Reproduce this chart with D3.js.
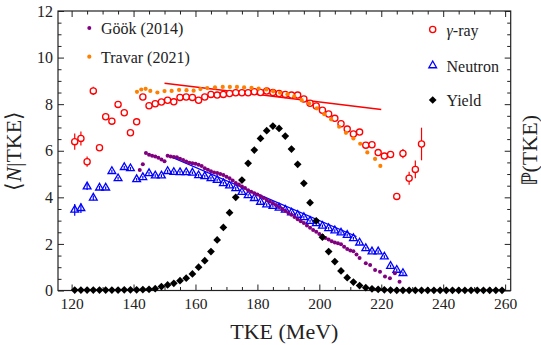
<!DOCTYPE html>
<html>
<head>
<meta charset="utf-8">
<script src="https://d3js.org/d3.v7.min.js"></script>
<style>
  body { margin: 0; background: #fff; }
</style>
</head>
<body>
<div id="chart"></div>
<script>
// gamma-ray multiplicity, 2 MeV bins
const gammaTke = [121,123,125,127,129,131,133,135,137,139,141,143,145,147,149,151,153,155,157,159,161,163,165,167,169,171,173,175,177,179,181,183,185,187,189,191,193,195,197,199,201,203,205,207,209,211,213,215,217,219,221,223,225,227,229,231,233];
const gammaN = [6.39,6.53,5.53,8.57,6.13,7.46,7.27,7.99,7.63,6.77,7.24,8.31,7.93,8.02,8.09,8.17,8.10,8.29,8.31,8.29,8.17,8.31,8.42,8.39,8.42,8.46,8.49,8.49,8.49,8.53,8.50,8.56,8.50,8.46,8.42,8.39,8.39,8.22,8.04,7.92,7.74,7.58,7.39,7.16,6.93,6.72,6.80,6.24,6.26,5.92,5.77,5.84,4.04,5.88,4.82,5.20,6.29];
const gammaErr = [0.35,0.3,0.22,0.18,0.12,0.1,0.1,0.1,0.1,0.1,0.1,0.1,0.1,0.1,0.1,0.1,0.1,0.1,0.1,0.1,0.1,0.1,0.1,0.1,0.1,0.1,0.1,0.1,0.1,0.1,0.1,0.1,0.1,0.1,0.1,0.1,0.1,0.1,0.1,0.1,0.1,0.1,0.1,0.1,0.1,0.1,0.1,0.1,0.1,0.1,0.1,0.1,0.12,0.2,0.28,0.38,0.7];

// neutron multiplicity
const neutronTke = [121,123,125,127,129,131,133,135,137,139,141,143,145,147,149,151,153,155,157,159,161,163,165,167,169,171,173,175,177,179,181,183,185,187,189,191,193,195,197,199,201,203,205,207,209,211,213,215,217,219,221,223,225,227];
const neutronN = [3.46,3.53,4.46,3.98,4.41,4.41,5.12,4.81,5.29,5.24,4.77,4.86,5.03,4.93,4.93,5.12,5.08,5.07,5.07,5.05,4.94,4.90,4.81,4.74,4.60,4.50,4.38,4.22,4.08,3.96,3.80,3.69,3.62,3.55,3.46,3.34,3.24,3.14,2.98,2.88,2.77,2.67,2.57,2.48,2.38,2.24,2.05,1.81,1.67,1.67,1.45,1.05,0.88,0.74];
const neutronErr = [0.25,0.2,0.15,0.1,0.08];

// Göök (2014)
const gookTke = [142,143,144,145,146,147,148,149,150,151,152,153,154,155,156,157,158,159,160,161,162,163,164,165,166,167,168,169,170,171,172,173,174,175,176,177,178,179,180,181,182,183,184,185,186,187,188,189,190,191,192,193,194,195,196,197,198,199,200,201,202,203,204,205,206,207,208,209,210,211,212,213,215,216.4,218,219.6,221.2,222.8,224.4,225.9];
const gookN = [5.17,5.42,5.90,5.83,5.79,5.75,5.70,5.62,5.55,5.78,5.75,5.73,5.72,5.66,5.60,5.54,5.48,5.46,5.44,5.40,5.35,5.25,5.18,5.12,5.07,5.04,5.00,4.96,4.88,4.82,4.72,4.62,4.55,4.46,4.40,4.30,4.24,4.18,4.12,4.05,3.97,3.90,3.82,3.75,3.67,3.58,3.50,3.42,3.33,3.25,3.16,3.06,2.97,2.90,2.79,2.69,2.60,2.52,2.43,2.35,2.25,2.19,2.11,2.06,2.03,1.99,1.88,1.78,1.72,1.69,1.55,1.40,1.17,1.10,0.88,0.81,0.60,0.53,0.74,0.38];

// Travar (2021)
const travarTke = [141.1,142.5,143.9,145.4,147.7,150.0,152.3,154.7,157.1,159.4,161.6,163.8,166.3,168.8,171.1,173.4,175.7,178.1,180.4,182.9,185.1,187.3,189.7,191.9,194.3,196.7,199.2,201.6,203.8,206.4,208.6,211.0,213.2,215.5,218.0,219.7];
const travarN = [8.53,8.63,8.66,8.57,8.50,8.56,8.57,8.61,8.60,8.58,8.65,8.69,8.72,8.74,8.74,8.74,8.72,8.70,8.67,8.63,8.55,8.49,8.43,8.34,8.17,8.03,7.82,7.57,7.35,7.03,6.77,6.53,6.30,5.93,5.65,5.35];

// fragment yield, drawn in left-axis units
const yieldTke = [121,123,125,127,129,131,133,135,137,139,141,143,145,147,149,151,153,155,157,159,161,163,165,167,169,171,173,175,177,179,181,183,185,187,189,191,193,195,197,199,201,203,205,207,209,211,213,215,217,219,221,223,225,227,229,231,233,235,237,239,241,243,245,247,249,251,253,255,257,259];
const yieldN = [0.02,0.02,0.02,0.02,0.02,0.02,0.02,0.02,0.03,0.03,0.03,0.04,0.05,0.08,0.17,0.24,0.31,0.42,0.53,0.71,1.00,1.28,1.67,2.17,2.71,3.34,4.00,4.74,5.46,6.03,6.53,6.86,7.06,6.96,6.63,6.07,5.42,4.60,3.77,2.99,2.29,1.67,1.24,0.84,0.55,0.36,0.21,0.12,0.07,0.05,0.03,0.02,0.01,0.01,0.01,0.01,0.01,0.01,0.01,0.01,0.01,0.01,0.01,0.01,0.01,0.01,0.01,0.01,0.01,0.01];

// linear fits
const gammaFitTke = [150, 220];
const gammaFitN = [8.9, 7.77];
const neutronFitTke = [151, 212];
const neutronFitN = [5.8, 2.32];

const xTicks = [120, 140, 160, 180, 200, 220, 240, 260];
const yTicks = [0, 2, 4, 6, 8, 10, 12];

const FONT = '"Liberation Serif"';
const width = 541, height = 345;
const margin = { left: 58, right: 510.7, top: 11, bottom: 290.5 };

const svg = d3.select("#chart").append("svg")
  .attr("width", width)
  .attr("height", height);

svg.append("rect").attr("width", width).attr("height", height).attr("fill", "#fff");

const x = d3.scaleLinear().domain([115.6, 261.8]).range([margin.left, margin.right]);
const y = d3.scaleLinear().domain([0, 12]).range([margin.bottom, margin.top]);

const minorX = d3.range(120, 262, 5).filter(v => v % 20 !== 0);
const minorY = d3.range(0.5, 12, 0.5).filter(v => v % 2 !== 0);

function styleAxis(g) {
  g.attr("font-family", null).attr("font-size", null);
  g.select(".domain").remove();
  g.selectAll("line").attr("stroke", "#222").attr("stroke-width", 1);
  g.selectAll("text").style("font-size", "15.5px").attr("fill", "#222");
}

// bottom axis
svg.append("g").attr("transform", `translate(0,${margin.bottom})`)
  .call(d3.axisBottom(x).tickValues(xTicks).tickSize(-6).tickPadding(7))
  .call(styleAxis);
svg.append("g").attr("transform", `translate(0,${margin.bottom})`)
  .call(d3.axisBottom(x).tickValues(minorX).tickSize(-3.5).tickFormat(""))
  .call(styleAxis);
// top axis
svg.append("g").attr("transform", `translate(0,${margin.top})`)
  .call(d3.axisTop(x).tickValues(xTicks).tickSize(-6).tickFormat(""))
  .call(styleAxis);
svg.append("g").attr("transform", `translate(0,${margin.top})`)
  .call(d3.axisTop(x).tickValues(minorX).tickSize(-3.5).tickFormat(""))
  .call(styleAxis);
// left axis
svg.append("g").attr("transform", `translate(${margin.left},0)`)
  .call(d3.axisLeft(y).tickValues(yTicks).tickSize(-6).tickPadding(5))
  .call(styleAxis)
  .selectAll("text").style("font-size", "16px");
svg.append("g").attr("transform", `translate(${margin.left},0)`)
  .call(d3.axisLeft(y).tickValues(minorY).tickSize(-3.5).tickFormat(""))
  .call(styleAxis);
// right axis (no labels)
svg.append("g").attr("transform", `translate(${margin.right},0)`)
  .call(d3.axisRight(y).tickValues(yTicks).tickSize(-6).tickFormat(""))
  .call(styleAxis);
svg.append("g").attr("transform", `translate(${margin.right},0)`)
  .call(d3.axisRight(y).tickValues(minorY).tickSize(-3.5).tickFormat(""))
  .call(styleAxis);

// frame
svg.append("rect")
  .attr("x", margin.left).attr("y", margin.top)
  .attr("width", margin.right - margin.left).attr("height", margin.bottom - margin.top)
  .attr("fill", "none").attr("stroke", "#222").attr("stroke-width", 1.2);

// axis titles
svg.append("text")
  .attr("x", (margin.left + margin.right) / 2).attr("y", 339)
  .attr("text-anchor", "middle")
  .style("font-size", "22px")
  .text("TKE (MeV)");

const midY = (margin.top + margin.bottom) / 2;
const yLabel = svg.append("text")
  .attr("transform", `translate(21,${midY}) rotate(-90)`)
  .attr("text-anchor", "middle")
  .style("font-size", "22px");
yLabel.append("tspan").text("\u27E8");
yLabel.append("tspan").style("font-style", "italic").text("N");
yLabel.append("tspan").text("|TKE\u27E9");

svg.append("text")
  .attr("transform", `translate(537,${midY}) rotate(-90)`)
  .attr("text-anchor", "middle")
  .style("font-size", "22px")
  .text("\u2119(TKE)");

const plot = svg.append("g");
const line = d3.line().x(d => x(d[0])).y(d => y(d[1]));

// fit lines
plot.append("path")
  .attr("d", line(gammaFitTke.map((t, i) => [t, gammaFitN[i]])))
  .attr("stroke", "#ff0000").attr("stroke-width", 1.4).attr("fill", "none");
plot.append("path")
  .attr("d", line(neutronFitTke.map((t, i) => [t, neutronFitN[i]])))
  .attr("stroke", "#0000ff").attr("stroke-width", 1.2).attr("fill", "none");

const diamond = d3.symbol(d3.symbolSquare, 30)();
const triangle = d3.symbol(d3.symbolTriangle, 26)();

// gamma-ray
const gamma = gammaTke.map((t, i) => ({ t: t, n: gammaN[i], e: gammaErr[i] }));
plot.selectAll(".gerr").data(gamma).enter().append("line")
  .attr("x1", d => x(d.t)).attr("x2", d => x(d.t))
  .attr("y1", d => y(d.n - d.e)).attr("y2", d => y(d.n + d.e))
  .attr("stroke", "#ff0000").attr("stroke-width", 1.2);
plot.selectAll(".gpt").data(gamma).enter().append("circle")
  .attr("cx", d => x(d.t)).attr("cy", d => y(d.n)).attr("r", 3.1)
  .attr("fill", "#fff").attr("stroke", "#ff0000").attr("stroke-width", 1.3);

// neutron
const neutron = neutronTke.map((t, i) => ({ t: t, n: neutronN[i], e: neutronErr[i] || 0.06 }));
plot.selectAll(".nerr").data(neutron).enter().append("line")
  .attr("x1", d => x(d.t)).attr("x2", d => x(d.t))
  .attr("y1", d => y(d.n - d.e)).attr("y2", d => y(d.n + d.e))
  .attr("stroke", "#0000ff").attr("stroke-width", 1.2);
plot.selectAll(".npt").data(neutron).enter().append("path")
  .attr("d", triangle)
  .attr("transform", d => `translate(${x(d.t)},${y(d.n)})`)
  .attr("fill", "none").attr("stroke", "#0000ff").attr("stroke-width", 1.3);

// Göök
plot.selectAll(".gook").data(gookTke).enter().append("circle")
  .attr("cx", d => x(d)).attr("cy", (d, i) => y(gookN[i])).attr("r", 2)
  .attr("fill", "#800080");

// Travar
plot.selectAll(".travar").data(travarTke).enter().append("circle")
  .attr("cx", d => x(d)).attr("cy", (d, i) => y(travarN[i])).attr("r", 2.1)
  .attr("fill", "#ff8000");

// yield
plot.selectAll(".yield").data(yieldTke).enter().append("path")
  .attr("d", diamond)
  .attr("transform", (d, i) => `translate(${x(d)},${y(yieldN[i])}) rotate(45)`)
  .attr("fill", "#000");

// legends
const legL = svg.append("g");
legL.append("circle").attr("cx", 89.3).attr("cy", 28).attr("r", 2).attr("fill", "#800080");
legL.append("text").attr("x", 101).attr("y", 34).style("font-size", "16px").text("Göök (2014)");
legL.append("circle").attr("cx", 89.3).attr("cy", 56.7).attr("r", 2.1).attr("fill", "#ff8000");
legL.append("text").attr("x", 101).attr("y", 62.5).style("font-size", "16px").text("Travar (2021)");

const legR = svg.append("g");
legR.append("circle").attr("cx", 432.7).attr("cy", 29.5).attr("r", 3.1)
  .attr("fill", "#fff").attr("stroke", "#ff0000").attr("stroke-width", 1.3);
const gText = legR.append("text").attr("x", 446.5).attr("y", 35.5).style("font-size", "16px");
gText.append("tspan").style("font-style", "italic").text("γ");
gText.append("tspan").text("-ray");
legR.append("path").attr("d", triangle)
  .attr("transform", "translate(432.7,65.5)")
  .attr("fill", "none").attr("stroke", "#0000ff").attr("stroke-width", 1.3);
legR.append("text").attr("x", 446.5).attr("y", 71.5).style("font-size", "16px").text("Neutron");
legR.append("path").attr("d", diamond)
  .attr("transform", "translate(432.7,100) rotate(45)")
  .attr("fill", "#000");
legR.append("text").attr("x", 446.5).attr("y", 106).style("font-size", "16px").text("Yield");

svg.selectAll("text").style("font-family", FONT).attr("fill", "#222");
</script>
</body>
</html>
